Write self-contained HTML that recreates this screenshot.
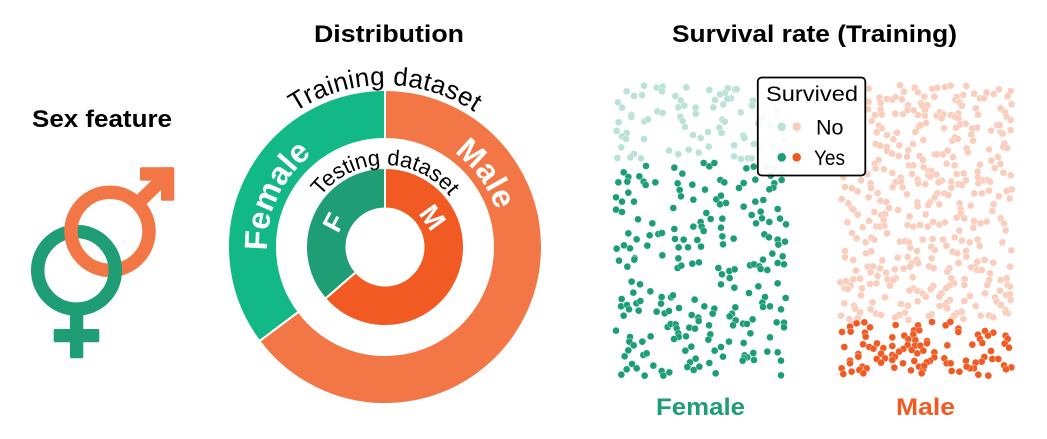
<!DOCTYPE html>
<html lang="en">
<head>
<meta charset="utf-8">
<title>Sex feature</title>
<style>
  html, body { margin: 0; padding: 0; background: #fff; }
  svg { display: block; font-family: "Liberation Sans", "DejaVu Sans", sans-serif; }
</style>
</head>
<body>
<svg id="chart" width="1047" height="439" viewBox="0 0 1047 439" xmlns="http://www.w3.org/2000/svg">
  <rect width="1047" height="439" fill="#fff"/>

  <text x="32" y="127" font-size="24.5" font-weight="700" fill="#000" textLength="140" lengthAdjust="spacingAndGlyphs">Sex feature</text>
  <text x="314" y="42" font-size="24.5" font-weight="700" fill="#000" textLength="150" lengthAdjust="spacingAndGlyphs">Distribution</text>
  <text x="672" y="42" font-size="24.5" font-weight="700" fill="#000" textLength="285" lengthAdjust="spacingAndGlyphs">Survival rate (Training)</text>

  <g>
    <g fill="#1f9e75">
      <circle cx="76.5" cy="270.3" r="38.8" fill="none" stroke="#1f9e75" stroke-width="13.5"/>
      <rect x="70" y="312" width="13.3" height="46.3" rx="1.5"/>
      <rect x="53.7" y="329" width="45.6" height="13.3" rx="1.5"/>
    </g>
    <g fill="#f37746">
      <circle cx="110" cy="231.3" r="39" fill="none" stroke="#f37746" stroke-width="13.5"/>
      <line x1="140" y1="201" x2="167" y2="175" stroke="#f37746" stroke-width="13.5"/>
      <rect x="140" y="167.3" width="34" height="13.4" rx="1.2"/>
      <rect x="161" y="167.3" width="13.3" height="33.4" rx="1.2"/>
    </g>
    <clipPath id="overlapClip"><rect x="96" y="248" width="32" height="44"/></clipPath>
    <circle cx="76.5" cy="270.3" r="38.8" fill="none" stroke="#1f9e75" stroke-width="13.5" clip-path="url(#overlapClip)"/>
  </g>

  <g id="donut"></g>
  <defs>
    <path id="arcTraining" d="M 223 247 A 162 162 0 0 1 547 247"/>
    <path id="arcTesting" d="M 303 247 A 82 82 0 0 1 467 247"/>
    <path id="arcFemale" d="M 294.6 322.9 A 118 118 0 0 1 385 129"/>
    <path id="arcMale" d="M 385 130 A 117 117 0 0 1 496.3 283.2"/>
  </defs>
  <text font-size="26" letter-spacing="0.3" fill="#000" text-anchor="middle"><textPath href="#arcTraining" startOffset="50%">Training dataset</textPath></text>
  <text font-size="22" fill="#000" text-anchor="middle"><textPath href="#arcTesting" startOffset="50%">Testing dataset</textPath></text>
  <text font-size="32" font-weight="700" fill="#fff" text-anchor="middle"><textPath href="#arcFemale" startOffset="50%">Female</textPath></text>
  <text font-size="32" font-weight="700" letter-spacing="0.5" fill="#fff" text-anchor="middle"><textPath href="#arcMale" startOffset="50%">Male</textPath></text>
  <text font-size="27" font-weight="700" fill="#fff" text-anchor="middle" transform="translate(333 222) rotate(-62) translate(0 10)">F</text>
  <text font-size="28" font-weight="700" fill="#fff" text-anchor="middle" transform="translate(433 217) rotate(54) translate(0 10)">M</text>

  <g id="scatter"></g>

  <text x="656" y="415" font-size="24.5" font-weight="700" fill="#1f9e75" textLength="89" lengthAdjust="spacingAndGlyphs">Female</text>
  <text x="896" y="415" font-size="24.5" font-weight="700" fill="#f15a22" textLength="59" lengthAdjust="spacingAndGlyphs">Male</text>

  <g>
    <rect x="757.8" y="77.5" width="107.5" height="98" rx="4" fill="#fff" fill-opacity="0.85" stroke="#000" stroke-width="1.8"/>
    <text x="766" y="101" font-size="21.5" fill="#000" textLength="92" lengthAdjust="spacingAndGlyphs">Survived</text>
    <circle cx="781.7" cy="126.7" r="4.3" fill="#bbe2d6"/>
    <circle cx="796.7" cy="126.7" r="4.3" fill="#fbcdbd"/>
    <text x="816" y="134.5" font-size="21.5" fill="#000">No</text>
    <circle cx="781.7" cy="157.3" r="4.3" fill="#1b9e77"/>
    <circle cx="796.7" cy="157.3" r="4.3" fill="#f15a22"/>
    <text x="814" y="165" font-size="21.5" fill="#000" textLength="31" lengthAdjust="spacingAndGlyphs">Yes</text>
  </g>
</svg>

<script>
// Passenger counts by sex [female, male]
const trainingCounts = [314, 577];
const testingCounts = [152, 266];

// Jittered scatter values: [horizontal jitter, vertical rank]; upper and lower bands of each panel
const femaleNo = [[102,32],[50,49],[72,63],[96,60],[140,38],[158,35],[156,49],[229,37],[196,63],[212,76],[298,45],[353,40],[345,54],[330,58],[315,75],[375,43],[380,43],[363,70],[352,72],[340,88],[24,82],[36,98],[205,97],[223,92],[257,98],[257,116],[310,97],[429,77],[427,92],[392,112],[142,109],[158,114],[64,120],[64,126],[26,142],[103,139],[114,133],[211,125],[218,138],[225,156],[337,134],[344,140],[328,158],[335,174],[20,168],[50,174],[36,184],[48,192],[102,192],[249,180],[272,189],[294,171],[400,182],[403,189],[34,217],[72,237],[61,247],[22,249],[93,250],[177,227],[205,238],[236,224],[266,233],[296,215],[372,211],[432,207],[372,244],[393,252],[414,250],[500,110],[460,130],[445,145],[480,150],[520,170],[525,195],[490,215],[450,225],[470,275],[492,280],[520,295],[425,250],[455,130]];

const femaleYesUpper = [[108,273],[41,292],[55,306],[88,304],[101,320],[107,330],[25,322],[52,320],[136,322],[193,278],[217,296],[203,325],[209,345],[213,364],[247,329],[285,344],[281,264],[298,274],[313,264],[331,315],[343,322],[401,324],[387,339],[409,280],[431,275],[436,314],[515,315],[493,325],[490,338],[478,343],[482,302],[55,353],[18,367],[36,380],[72,380],[18,404],[36,411],[190,399],[250,374],[319,373],[333,362],[330,388],[348,384],[401,395],[436,380],[460,375],[503,402],[425,420],[452,410],[456,430],[510,431],[528,448],[478,441],[438,445],[84,433],[127,445],[289,414],[302,432],[337,431],[272,441],[275,455],[250,455],[193,462],[333,458]];

const femaleYesLower = [[55,25],[80,43],[119,31],[145,27],[156,24],[195,42],[221,44],[281,18],[262,45],[206,67],[234,67],[273,65],[337,34],[339,58],[371,41],[463,28],[477,37],[503,44],[505,59],[525,50],[20,71],[42,61],[60,70],[112,62],[157,91],[205,100],[27,107],[74,100],[73,104],[52,125],[203,129],[214,122],[247,116],[267,112],[325,129],[336,148],[358,138],[374,133],[359,159],[420,121],[432,118],[448,124],[452,132],[472,135],[459,104],[487,86],[518,94],[503,114],[522,118],[503,175],[65,170],[90,178],[70,203],[121,199],[35,222],[155,216],[183,217],[189,211],[254,224],[153,236],[33,244],[51,240],[79,235],[91,228],[57,253],[86,257],[41,272],[140,260],[164,265],[177,258],[207,249],[283,244],[313,251],[308,266],[245,270],[265,278],[266,288],[333,178],[373,188],[417,204],[445,184],[465,216],[527,219],[457,233],[459,246],[480,244],[513,253],[376,247],[366,266],[359,274],[377,286],[428,283],[369,301],[399,296],[411,297],[500,292],[522,293],[522,307],[18,317],[173,306],[182,297],[197,298],[200,310],[238,308],[255,311],[297,301],[205,325],[206,336],[228,334],[192,342],[301,328],[295,344],[421,325],[480,337],[357,350],[401,354],[60,336],[58,350],[122,334],[97,350],[71,361],[55,376],[44,394],[100,390],[110,385],[244,365],[226,377],[314,377],[333,366],[339,395],[430,384],[472,380],[503,382],[404,391],[412,397],[402,400],[398,407],[432,405],[513,407],[66,417],[50,433],[80,430],[34,449],[104,452],[130,422],[155,438],[178,442],[160,452],[240,412],[232,426],[257,401],[268,425],[251,435],[298,414],[317,445],[513,451]];

const maleNoUpper = [[210,31],[222,50],[254,38],[264,52],[307,41],[322,38],[345,36],[362,32],[409,33],[432,56],[470,52],[507,43],[542,48],[491,57],[533,64],[545,88],[116,41],[116,80],[148,68],[152,84],[171,72],[188,74],[197,66],[216,73],[234,90],[283,65],[273,85],[277,92],[292,90],[313,65],[380,66],[376,75],[400,60],[388,82],[396,92],[450,70],[462,70],[438,100],[444,119],[152,103],[155,119],[114,103],[135,120],[125,138],[196,116],[219,117],[233,105],[251,106],[264,120],[285,105],[285,122],[320,122],[330,112],[340,118],[335,130],[363,120],[385,115],[375,125],[385,130],[512,100],[525,112],[530,125],[542,135],[147,152],[155,160],[140,172],[171,180],[201,173],[190,193],[208,211],[256,171],[266,155],[272,150],[288,144],[280,195],[342,160],[378,158],[392,148],[407,146],[441,158],[427,160],[424,178],[429,197],[483,167],[501,150],[509,150],[512,172],[518,176],[542,165],[367,197],[375,187],[383,192],[137,207],[151,212],[170,216],[171,228],[186,236],[206,243],[249,207],[235,226],[231,245],[269,243],[279,255],[281,277],[314,238],[321,238],[339,238],[353,227],[369,246],[410,220],[414,232],[477,223],[523,205],[520,216],[531,219],[504,246],[484,257],[511,267],[494,279],[520,293],[542,301],[146,255],[134,267],[137,280],[162,283],[187,294],[112,298],[93,316],[40,307],[45,336],[66,340],[83,349],[122,325],[123,339],[143,354],[116,367],[35,372],[55,385],[65,400],[70,404],[83,419],[151,377],[169,381],[177,399],[204,405],[133,411],[154,420],[165,417],[161,435],[52,442],[117,438],[139,455],[150,455],[163,452],[98,457],[237,271],[250,271],[246,297],[350,266],[374,271],[296,289],[304,288],[319,299],[295,302],[300,305],[380,297],[401,295],[450,269],[443,290],[444,307],[461,316],[473,315],[480,320],[445,325],[263,314],[265,325],[212,308],[197,321],[213,320],[188,337],[218,337],[286,328],[231,358],[336,317],[326,322],[364,320],[386,327],[396,330],[408,316],[364,338],[433,355],[456,355],[477,347],[530,348],[545,343],[507,364],[539,371],[322,355],[314,367],[343,355],[355,360],[262,382],[263,394],[300,382],[295,390],[328,388],[422,392],[491,388],[389,385],[392,403],[487,408],[287,418],[239,424],[393,416],[380,428],[403,430],[512,430],[522,445],[432,438],[451,445],[470,440],[232,450],[250,455],[270,450],[293,455],[309,441],[328,449],[345,442]];

const maleNoLower = [[66,24],[80,40],[107,52],[124,38],[133,44],[171,25],[210,50],[225,48],[237,52],[241,68],[278,44],[308,42],[339,44],[374,37],[396,47],[388,17],[430,8],[527,16],[419,52],[443,44],[517,52],[349,62],[304,66],[315,75],[261,78],[45,78],[45,97],[108,85],[124,79],[70,105],[157,106],[203,98],[233,96],[260,104],[265,115],[245,115],[240,125],[305,100],[368,80],[382,85],[386,114],[408,78],[409,95],[449,63],[544,76],[464,105],[442,110],[490,113],[540,125],[78,137],[113,125],[129,124],[122,142],[150,130],[168,143],[143,153],[195,133],[221,131],[297,124],[311,130],[358,130],[352,140],[364,160],[435,125],[423,127],[441,135],[455,135],[480,145],[478,165],[512,165],[530,160],[472,180],[465,205],[404,162],[403,180],[31,172],[48,168],[70,163],[90,161],[62,182],[44,190],[54,192],[96,190],[120,177],[139,175],[172,163],[180,182],[197,160],[190,165],[248,157],[372,175],[358,182],[348,190],[335,205],[250,190],[238,197],[262,198],[278,205],[287,215],[310,183],[302,193],[533,180],[540,185],[510,197],[93,211],[165,217],[328,215],[420,213],[495,217],[528,210],[540,208],[542,225],[500,230],[263,229],[213,237],[234,242],[360,225],[350,233],[344,242],[352,250],[329,243],[403,228],[437,243],[43,235],[72,242],[76,252],[128,232],[122,253],[90,262],[138,266],[153,270],[33,272],[513,240],[527,255],[534,265],[395,260],[380,265],[372,272],[365,282],[400,282],[225,263],[208,270],[195,277],[235,285],[305,268],[297,273],[452,272],[477,272],[490,277],[58,282],[83,280],[72,295],[527,262]];

const maleYesLower = [[103,292],[80,295],[60,305],[36,321],[62,320],[120,307],[105,323],[107,335],[197,300],[264,301],[306,291],[347,301],[361,291],[385,311],[385,321],[252,316],[268,316],[223,332],[250,328],[187,337],[291,348],[256,345],[235,343],[233,360],[255,362],[271,362],[291,355],[187,363],[444,329],[465,318],[490,323],[474,332],[450,342],[457,354],[427,359],[527,332],[533,342],[524,356],[537,368],[352,361],[43,366],[99,358],[141,355],[118,366],[130,371],[160,369],[245,375],[220,372],[207,380],[262,385],[280,377],[313,382],[313,397],[300,408],[290,412],[153,386],[85,387],[85,395],[140,402],[165,400],[187,390],[195,395],[187,405],[153,413],[60,407],[60,415],[219,415],[253,408],[343,400],[350,415],[362,415],[408,407],[463,396],[483,378],[487,402],[505,402],[455,410],[437,413],[432,430],[420,430],[410,425],[522,421],[544,427],[528,433],[35,430],[65,440],[40,447],[97,425],[110,430],[88,435],[100,445],[193,428],[267,425],[243,436],[280,432],[283,422],[275,445],[365,438],[388,440],[445,449],[475,452]];

const SVG_NS = 'http://www.w3.org/2000/svg';

// Axis functions
function xFemale(v) { return 610 + v / 3; }
function xMale(v) { return 830 + v / 3; }
function yUpper(v) { return 75 + v / 3; }
function yLower(v) { return 225 + v / 3; }

function drawPoints(points, xFn, yFn, color, seriesName) {
  const group = document.getElementById('scatter');
  points.forEach(function (p) {
    const el = document.createElementNS(SVG_NS, 'circle');
    
    
    el.setAttribute('cx', xFn(p[0]).toFixed(2));
    el.setAttribute('cy', yFn(p[1]).toFixed(2));
    el.setAttribute('r', '3.5');
    el.setAttribute('fill', color);
    el.setAttribute('stroke', '#fff');
    el.setAttribute('stroke-opacity', '0.7');
    el.setAttribute('stroke-width', '0.5');
    group.appendChild(el);
  });
}

drawPoints(femaleNo, xFemale, yUpper, '#bbe2d6', 'female-not-survived-point');
drawPoints(femaleYesUpper, xFemale, yUpper, '#1b9e77', 'female-survived-point');
drawPoints(femaleYesLower, xFemale, yLower, '#1b9e77', 'female-survived-point');
drawPoints(maleNoUpper, xMale, yUpper, '#fbcdbd', 'male-not-survived-point');
drawPoints(maleNoLower, xMale, yLower, '#fbcdbd', 'male-not-survived-point');
drawPoints(maleYesLower, xMale, yLower, '#f15a22', 'male-survived-point');

// Donut
const cx = 385, cy = 247;
function polar(r, fraction) {
  const a = fraction * 2 * Math.PI;
  return [cx + r * Math.sin(a), cy - r * Math.cos(a)];
}
function wedgePath(r0, r1, f0, f1) {
  const large = (f1 - f0) > 0.5 ? 1 : 0;
  const a = polar(r1, f0), b = polar(r1, f1), c = polar(r0, f1), d = polar(r0, f0);
  return 'M' + a[0] + ' ' + a[1] + 'A' + r1 + ' ' + r1 + ' 0 ' + large + ' 1 ' + b[0] + ' ' + b[1] +
         'L' + c[0] + ' ' + c[1] + 'A' + r0 + ' ' + r0 + ' 0 ' + large + ' 0 ' + d[0] + ' ' + d[1] + 'Z';
}
function drawRing(counts, r0, r1, colors, names) {
  const group = document.getElementById('donut');
  const total = counts[0] + counts[1];
  const maleShare = counts[1] / total;
  const spans = [[maleShare, 1], [0, maleShare]];
  spans.forEach(function (span, i) {
    const el = document.createElementNS(SVG_NS, 'path');
    
    
    el.setAttribute('d', wedgePath(r0, r1, span[0], span[1]));
    el.setAttribute('fill', colors[i]);
    el.setAttribute('stroke', '#fff');
    el.setAttribute('stroke-width', '2');
    group.appendChild(el);
  });
}
drawRing(trainingCounts, 108, 157, ['#13b887', '#f37746'], ['training-female-wedge', 'training-male-wedge']);
drawRing(testingCounts, 38.5, 79, ['#1f9e75', '#f15a22'], ['testing-female-wedge', 'testing-male-wedge']);
</script>
</body>
</html>
